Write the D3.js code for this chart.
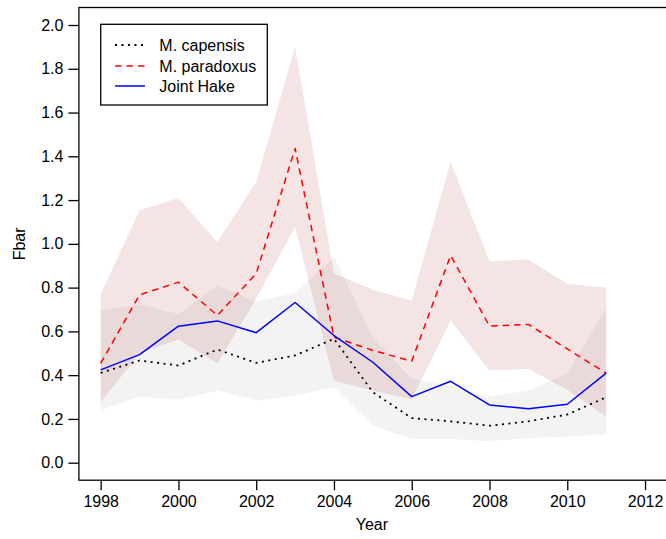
<!DOCTYPE html>
<html>
<head>
<meta charset="utf-8">
<script src="https://cdn.jsdelivr.net/npm/d3@7"></script>
<style>
  html, body { margin: 0; padding: 0; background: #fff; }
  svg { display: block; font-family: "Liberation Sans", Arial, sans-serif; }
</style>
</head>
<body>
<svg id="chart" width="666" height="539"></svg>
<script>
// Fishing mortality (Fbar) by year for the two hake species and the combined stock
const years = [1998, 1999, 2000, 2001, 2002, 2003, 2004, 2005, 2006, 2007, 2008, 2009, 2010, 2011];
const capensis   = [0.410, 0.467, 0.444, 0.517, 0.456, 0.490, 0.566, 0.322, 0.204, 0.189, 0.169, 0.189, 0.220, 0.299];
const paradoxus  = [0.454, 0.767, 0.825, 0.673, 0.864, 1.436, 0.574, 0.513, 0.464, 0.947, 0.624, 0.632, 0.520, 0.409];
const jointHake  = [0.424, 0.494, 0.624, 0.648, 0.594, 0.732, 0.581, 0.459, 0.302, 0.372, 0.264, 0.247, 0.267, 0.409];
// Confidence bands
const capensisLo  = [0.241, 0.302, 0.288, 0.330, 0.284, 0.307, 0.345, 0.169, 0.108, 0.108, 0.098, 0.113, 0.119, 0.131];
const capensisHi  = [0.696, 0.723, 0.680, 0.810, 0.736, 0.775, 0.943, 0.573, 0.383, 0.352, 0.302, 0.330, 0.406, 0.708];
const paradoxusLo = [0.276, 0.500, 0.563, 0.454, 0.750, 1.077, 0.375, 0.330, 0.290, 0.650, 0.421, 0.429, 0.333, 0.210];
const paradoxusHi = [0.769, 1.153, 1.210, 1.008, 1.283, 1.900, 0.864, 0.790, 0.741, 1.375, 0.921, 0.928, 0.818, 0.800];
// Axis ticks
const xTicks = [1998, 2000, 2002, 2004, 2006, 2008, 2010, 2012];
const yTicks = [0.0, 0.2, 0.4, 0.6, 0.8, 1.0, 1.2, 1.4, 1.6, 1.8, 2.0];
const legendLabels = ["M. capensis", "M. paradoxus", "Joint Hake"];

const svg = d3.select("#chart");
const FONT = 16;

// Plot region extends 4% beyond the data ranges on each side
const x = d3.scaleLinear().domain([1997.44, 2012.56]).range([78.9, 666.8]);
const y = d3.scaleLinear().domain([-0.08, 2.08]).range([480.2, 7.5]);

const rows = years.map((yr, i) => ({
  yr, cap: capensis[i], par: paradoxus[i], joint: jointHake[i],
  capLo: capensisLo[i], capHi: capensisHi[i], parLo: paradoxusLo[i], parHi: paradoxusHi[i]
}));

const band = (lo, hi) => d3.area().x(d => x(d.yr)).y0(d => y(d[lo])).y1(d => y(d[hi]));
const line = key => d3.line().x(d => x(d.yr)).y(d => y(d[key]));

// Shaded intervals
svg.append("path").datum(rows).attr("d", band("capLo", "capHi"))
  .attr("fill", "rgb(0,0,0)").attr("fill-opacity", 0.047);
svg.append("path").datum(rows).attr("d", band("parLo", "parHi"))
  .attr("fill", "rgb(182,75,75)").attr("fill-opacity", 0.15);

// Series lines
const styles = [
  { key: "cap",   color: "#000000", dash: "2,4.5", width: 1.8 },
  { key: "par",   color: "#ff0000", dash: "6.5,5", width: 1.5 },
  { key: "joint", color: "#0000ff", dash: null,    width: 1.5 }
];
styles.forEach(s => {
  svg.append("path").datum(rows).attr("d", line(s.key))
    .attr("fill", "none").attr("stroke", s.color).attr("stroke-width", s.width)
    .attr("stroke-dasharray", s.dash).attr("stroke-linejoin", "round");
});

// Axes
const xAxis = d3.axisBottom(x).tickValues(xTicks).tickFormat(d3.format("d")).tickSize(10).tickPadding(5);
const gx = svg.append("g").attr("transform", `translate(0,${y.range()[0]})`).call(xAxis);
gx.select(".domain").remove();
gx.selectAll(".tick line").attr("stroke", "#000").attr("stroke-width", 1.3);
gx.selectAll("text").attr("font-size", FONT).attr("fill", "#000").attr("font-family", "Liberation Sans, Arial, sans-serif");

const yAxis = d3.axisLeft(y).tickValues(yTicks).tickFormat(d3.format(".1f")).tickSize(10.5).tickPadding(5);
const gy = svg.append("g").attr("transform", `translate(${x.range()[0]},0)`).call(yAxis);
gy.select(".domain").remove();
gy.selectAll(".tick line").attr("stroke", "#000").attr("stroke-width", 1.3);
gy.selectAll("text").attr("font-size", FONT).attr("fill", "#000").attr("font-family", "Liberation Sans, Arial, sans-serif");

// Frame
svg.append("rect")
  .attr("x", x.range()[0]).attr("y", y.range()[1])
  .attr("width", x.range()[1] - x.range()[0]).attr("height", y.range()[0] - y.range()[1])
  .attr("fill", "none").attr("stroke", "#000").attr("stroke-width", 1.3);

// Axis titles
svg.append("text").attr("x", (x.range()[0] + x.range()[1]) / 2 - 1).attr("y", 530)
  .attr("text-anchor", "middle").attr("font-size", FONT).text("Year");
svg.append("text").attr("transform", `translate(25,${(y.range()[0] + y.range()[1]) / 2}) rotate(-90)`)
  .attr("text-anchor", "middle").attr("font-size", FONT).text("Fbar");

// Legend
const lg = svg.append("g");
lg.append("rect").attr("x", 100.7).attr("y", 24.3).attr("width", 166.6).attr("height", 80.7)
  .attr("fill", "#fff").attr("stroke", "#000").attr("stroke-width", 1.3);
const rowY = [45, 66, 86];
styles.forEach((s, i) => {
  lg.append("line").attr("x1", 115).attr("x2", 145).attr("y1", rowY[i]).attr("y2", rowY[i])
    .attr("stroke", s.color).attr("stroke-width", s.width).attr("stroke-dasharray", s.dash);
  lg.append("text").attr("x", 159.3).attr("y", rowY[i]).attr("dy", "0.35em")
    .attr("font-size", FONT).text(legendLabels[i]);
});
</script>
</body>
</html>
